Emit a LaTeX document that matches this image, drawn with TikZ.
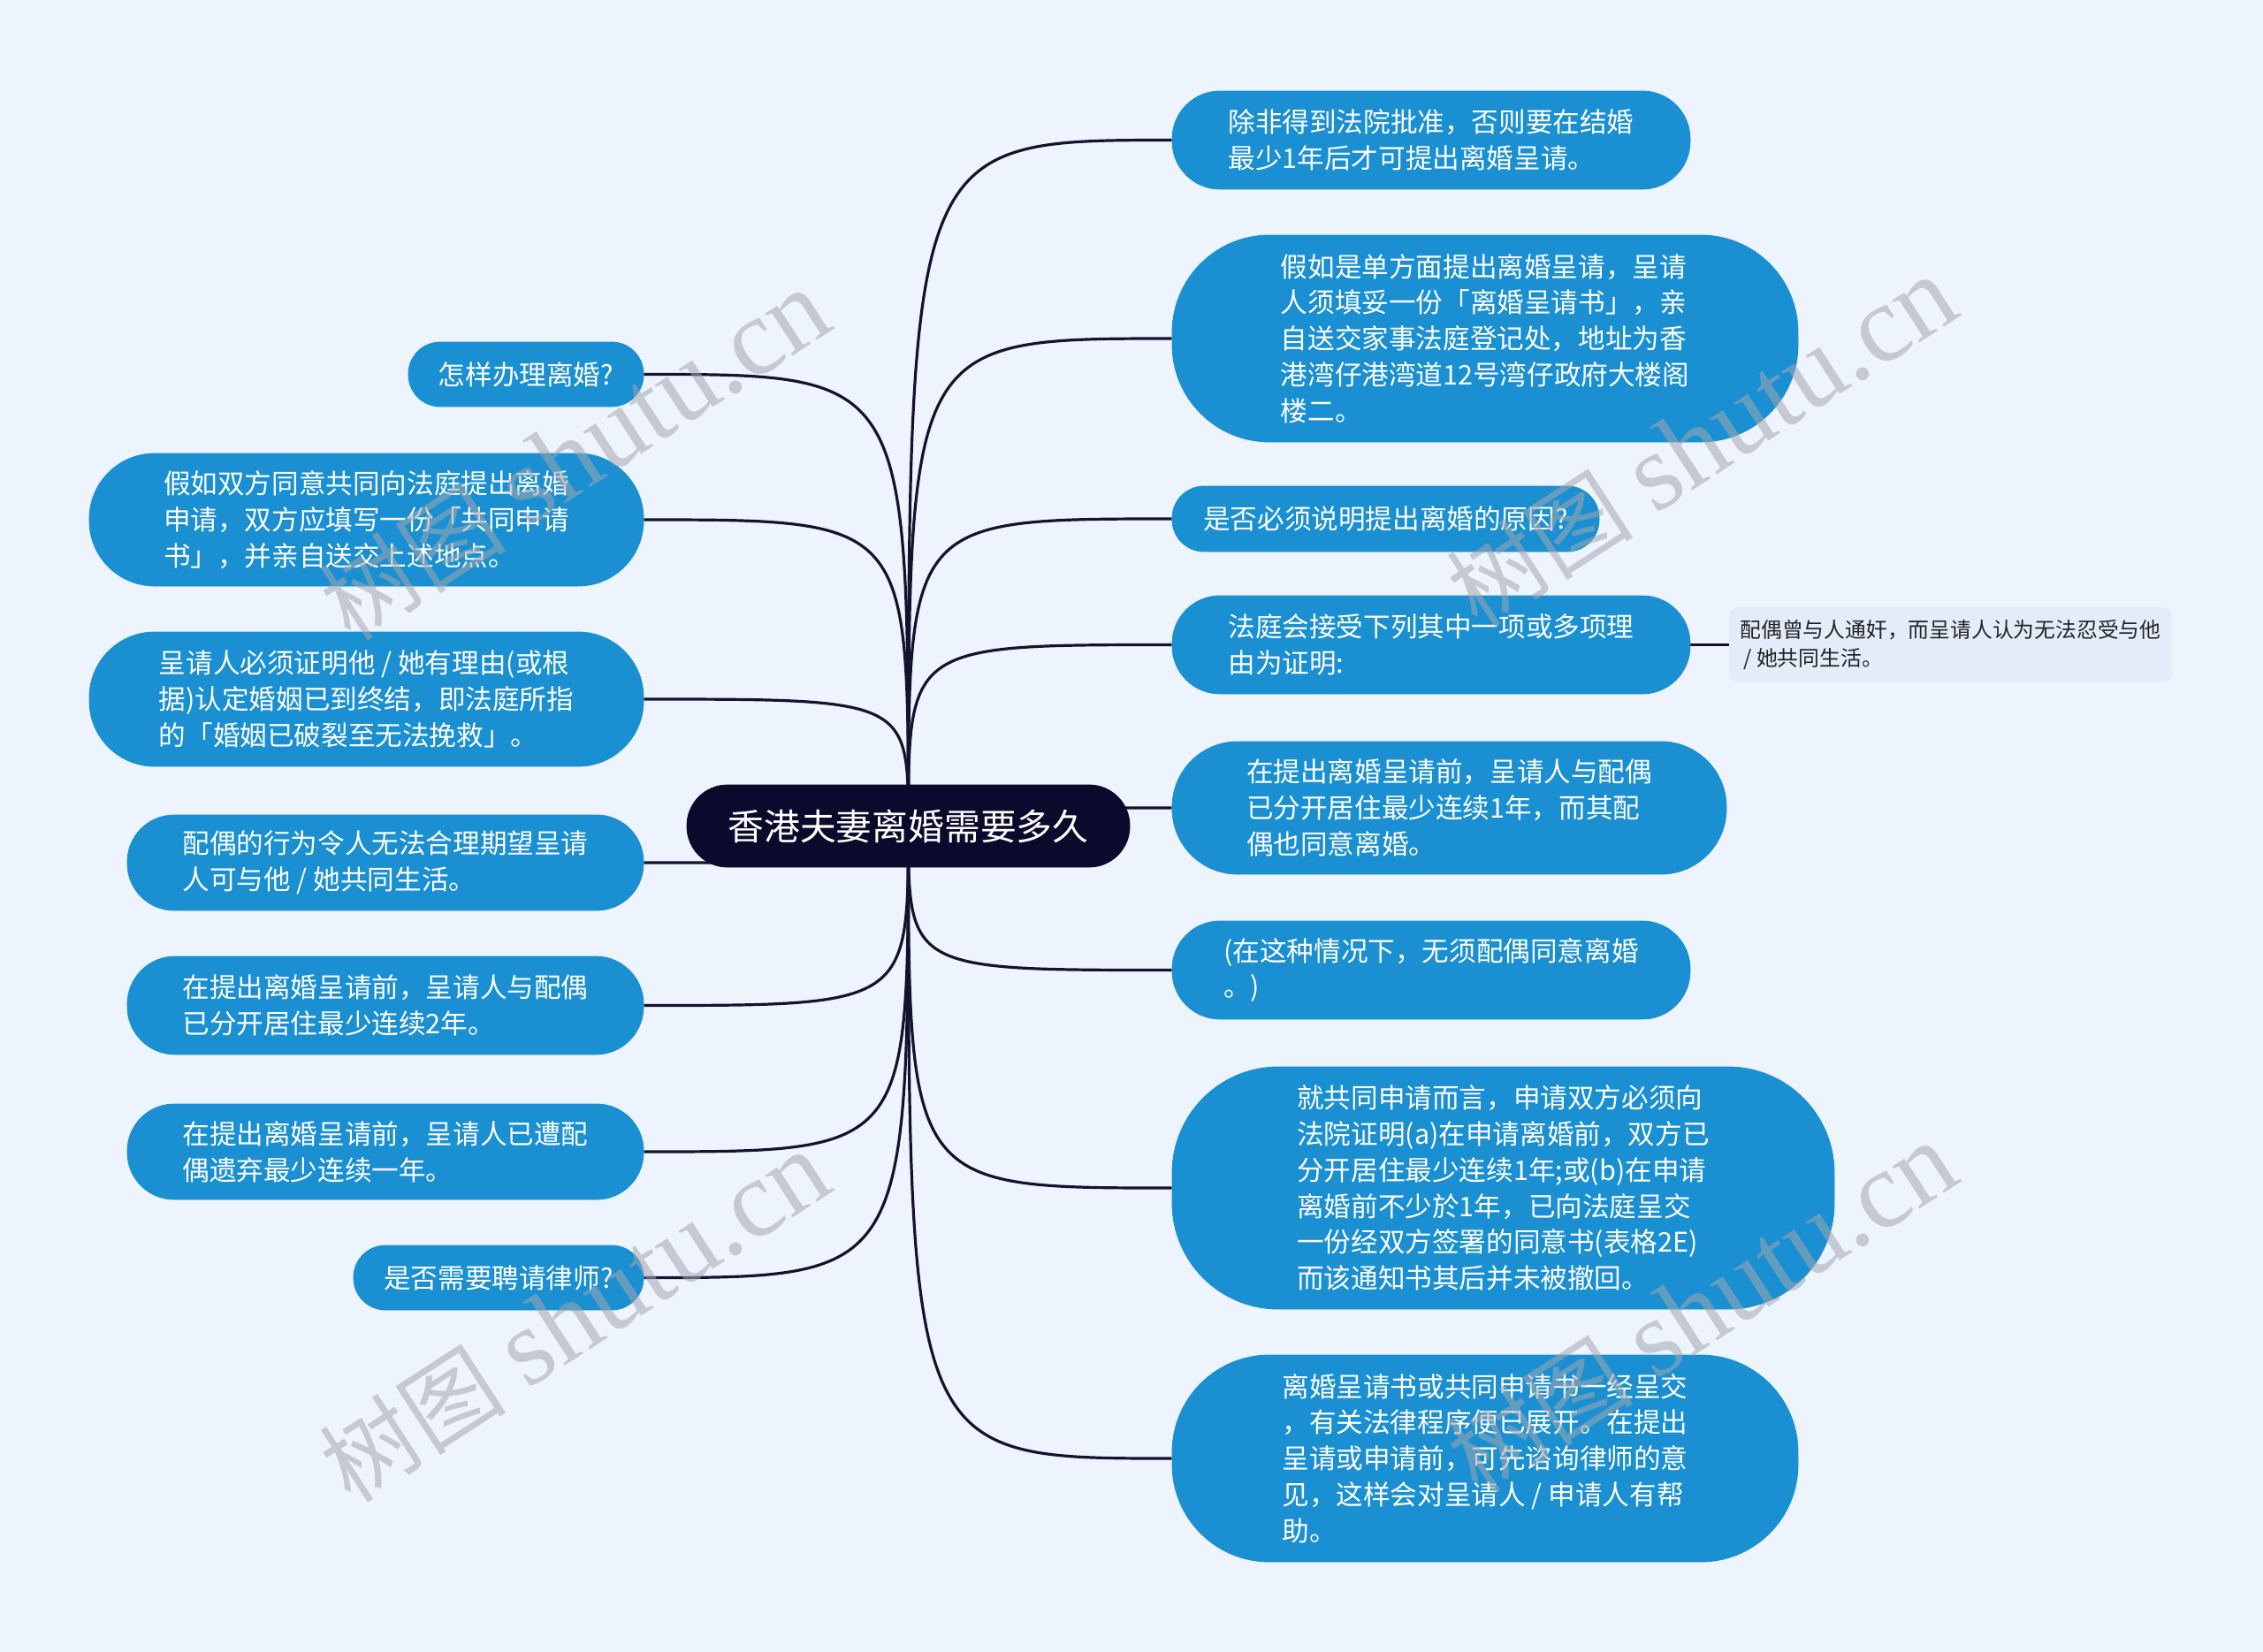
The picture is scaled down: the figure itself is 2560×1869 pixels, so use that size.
\documentclass[tikz,border=0pt]{standalone}
\usepackage{fontspec}
\setmainfont{Noto Sans CJK SC}
\newfontfamily\wmlatin{Liberation Serif}
\newfontfamily\wmcjk{Noto Sans CJK SC}
\pgfdeclarelayer{bg}
\pgfsetlayers{bg,main}
\definecolor{bgc}{HTML}{EEF4FE}
\definecolor{nodeblue}{HTML}{1A8FD1}
\definecolor{rootc}{HTML}{0C0A2C}
\definecolor{linec}{HTML}{14132E}
\definecolor{leafbg}{HTML}{E3ECF9}
\definecolor{leaftext}{HTML}{222222}
\definecolor{wmc}{HTML}{A2A7B0}
\tikzset{
  topic/.style={fill=nodeblue, draw=nodeblue, text=white, align=left,
    font=\fontsize{15.3pt}{20.4pt}\selectfont, inner sep=0pt},
  roottopic/.style={fill=rootc, draw=rootc, text=white,
    font=\fontsize{20.4pt}{24pt}\selectfont, inner sep=0pt,
    minimum width=250.5pt, minimum height=46.5pt, rounded corners=23pt},
  leafbox/.style={fill=leafbg, text=leaftext, align=left,
    font=\fontsize{11.9pt}{16.3pt}\selectfont, rounded corners=5pt, inner sep=0pt,
    minimum width=250.5pt, minimum height=42.5pt},
  conn/.style={draw=linec, line width=1.6pt},
  wmark/.style={text=wmc, opacity=0.55, rotate=33, inner sep=0pt}
}
\newcommand{\wmtext}{{\wmcjk\fontsize{53pt}{53pt}\selectfont 树图}\hspace{13pt}{\wmlatin\fontsize{62pt}{62pt}\selectfont shutu.cn}}
\begin{document}
\begin{tikzpicture}[x=0.5pt,y=-0.5pt]
\useasboundingbox (0,0) rectangle (2560,1869);

% root
\node[roottopic] (root) at (1027.5,934.5) {香港夫妻离婚需要多久};

% right side
\node[topic, minimum width=293pt, minimum height=55.5pt, rounded corners=27pt] (r1) at (1619,158.5)
  {除非得到法院批准，否则要在结婚\\最少1年后才可提出离婚呈请。};
\node[topic, minimum width=354pt, minimum height=117pt, rounded corners=55pt] (r2) at (1680,383)
  {假如是单方面提出离婚呈请，呈请\\人须填妥一份「离婚呈请书」，亲\\自送交家事法庭登记处，地址为香\\港湾仔港湾道12号湾仔政府大楼阁\\楼二。};
\node[topic, minimum width=241.5pt, minimum height=37pt, rounded corners=18pt] (r3) at (1567.5,587)
  {是否必须说明提出离婚的原因?};
\node[topic, minimum width=293pt, minimum height=55.5pt, rounded corners=27pt] (r4) at (1619,729.5)
  {法庭会接受下列其中一项或多项理\\由为证明:};
\node[leafbox] (r4a) at (2206.5,729.5)
  {配偶曾与人通奸，而呈请人认为无法忍受与他\\\hspace*{2pt}/ 她共同生活。};
\node[topic, minimum width=313.5pt, minimum height=75pt, rounded corners=37pt] (r5) at (1639.5,914)
  {在提出离婚呈请前，呈请人与配偶\\已分开居住最少连续1年，而其配\\偶也同意离婚。};
\node[topic, minimum width=293pt, minimum height=55.5pt, rounded corners=27pt] (r6) at (1619,1097.5)
  {(在这种情况下，无须配偶同意离婚\\。)};
\node[topic, minimum width=374.5pt, minimum height=137pt, rounded corners=60pt] (r7) at (1700.5,1344)
  {就共同申请而言，申请双方必须向\\法院证明(a)在申请离婚前，双方已\\分开居住最少连续1年;或(b)在申请\\离婚前不少於1年，已向法庭呈交\\一份经双方签署的同意书(表格2E)\\而该通知书其后并未被撤回。};
\node[topic, minimum width=354pt, minimum height=117pt, rounded corners=55pt] (r8) at (1680,1650)
  {离婚呈请书或共同申请书一经呈交\\，有关法律程序便已展开。在提出\\呈请或申请前，可先谘询律师的意\\见，这样会对呈请人 / 申请人有帮\\助。};

% left side
\node[topic, minimum width=133pt, minimum height=36.5pt, rounded corners=18pt] (l1) at (595,423.5)
  {怎样办理离婚?};
\node[topic, minimum width=313.5pt, minimum height=75pt, rounded corners=37pt] (l2) at (414.5,588)
  {假如双方同意共同向法庭提出离婚\\申请，双方应填写一份「共同申请\\书」，并亲自送交上述地点。};
\node[topic, minimum width=313.5pt, minimum height=76pt, rounded corners=37pt] (l3) at (414.5,791)
  {呈请人必须证明他 / 她有理由(或根\\据)认定婚姻已到终结，即法庭所指\\的「婚姻已破裂至无法挽救」。};
\node[topic, minimum width=292pt, minimum height=54pt, rounded corners=26.5pt] (l4) at (436,976)
  {配偶的行为令人无法合理期望呈请\\人可与他 / 她共同生活。};
\node[topic, minimum width=292pt, minimum height=55.5pt, rounded corners=27pt] (l5) at (436,1137.5)
  {在提出离婚呈请前，呈请人与配偶\\已分开居住最少连续2年。};
\node[topic, minimum width=292pt, minimum height=54pt, rounded corners=26.5pt] (l6) at (436,1303)
  {在提出离婚呈请前，呈请人已遭配\\偶遗弃最少连续一年。};
\node[topic, minimum width=164pt, minimum height=36.5pt, rounded corners=18pt] (l7) at (564,1445.5)
  {是否需要聘请律师?};

\begin{pgfonlayer}{bg}
  \fill[bgc] (0,0) rectangle (2560,1869);
  \foreach \t in {r1,r2,r3,r4,r5,r6,r7,r8}
    \draw[conn] (root.center) .. controls (root.center |- \t.west) .. (\t.west);
  \foreach \t in {l1,l2,l3,l4,l5,l6,l7}
    \draw[conn] (root.center) .. controls (root.center |- \t.east) .. (\t.east);
  \draw[conn] (r4.east) -- (r4a.west);
\end{pgfonlayer}

% watermarks
\node[wmark] (wm1) at (650,515) {\wmtext};
\node[wmark] (wm2) at (1925,500) {\wmtext};
\node[wmark] (wm3) at (650,1490) {\wmtext};
\node[wmark] (wm4) at (1925,1480) {\wmtext};
\end{tikzpicture}
\end{document}
